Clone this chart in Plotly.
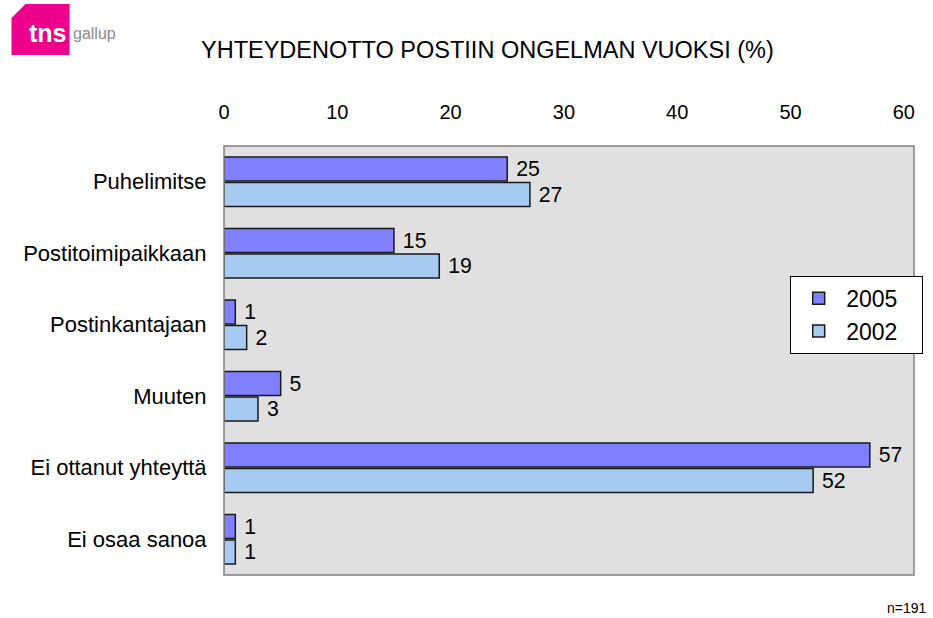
import plotly.graph_objects as go

categories = ["Puhelimitse", "Postitoimipaikkaan", "Postinkantajaan", "Muuten",
              "Ei ottanut yhteyttä", "Ei osaa sanoa"]
values_2005 = [25, 15, 1, 5, 57, 1]
values_2002 = [27, 19, 2, 3, 52, 1]
tick_vals = [0, 10, 20, 30, 40, 50, 60]
series_names = ["2005", "2002"]

W, H = 933, 618
L, R, T, B = 224.3, 913.7, 146, 575
PAD = "\u00a0\u00a0\u00a0"


def px(x):
    return (x - L) / (R - L)


def py(y):
    return (B - y) / (B - T)


fig = go.Figure()
fig.add_trace(go.Bar(
    y=categories, x=values_2005, name=series_names[0] + PAD, orientation="h",
    marker=dict(color="#8080FF", line=dict(color="#1a1a1a", width=1.5)),
    text=[" " + str(v) for v in values_2005], textposition="outside",
    textfont=dict(size=22, color="#000000"), cliponaxis=False,
))
fig.add_trace(go.Bar(
    y=categories, x=values_2002, name=series_names[1] + PAD, orientation="h",
    marker=dict(color="#A6CAF0", line=dict(color="#1a1a1a", width=1.5)),
    text=[" " + str(v) for v in values_2002], textposition="outside",
    textfont=dict(size=22, color="#000000"), cliponaxis=False,
))

shapes = []
shapes.append(dict(type="rect", xref="paper", yref="paper", x0=0, x1=1, y0=0, y1=1,
                   line=dict(color="#808080", width=1.5), layer="above"))
path = (f"M {px(12)},{py(18)} L {px(26)},{py(4)} L {px(70)},{py(4)} "
        f"L {px(70)},{py(55)} L {px(12)},{py(55)} Z")
shapes.append(dict(type="path", xref="paper", yref="paper", path=path,
                   fillcolor="#EC008C", line=dict(width=0)))

annotations = [
    dict(text="<b>tns</b>", x=px(48), y=py(33), xref="paper", yref="paper",
         showarrow=False, font=dict(family="Liberation Sans", size=25, color="white"),
         xanchor="center", yanchor="middle"),
    dict(text="gallup", x=px(71), y=py(34), xref="paper", yref="paper",
         showarrow=False, font=dict(family="Liberation Sans", size=16, color="#8a8a8a"),
         xanchor="left", yanchor="middle"),
    dict(text="YHTEYDENOTTO POSTIIN ONGELMAN VUOKSI (%)", x=px(488), y=py(50),
         xref="paper", yref="paper", showarrow=False,
         font=dict(family="Liberation Sans", size=23.5, color="#000000"),
         xanchor="center", yanchor="middle"),
    dict(text="n=191", x=px(929), y=py(608), xref="paper", yref="paper",
         showarrow=False, font=dict(family="Liberation Sans", size=14, color="#000000"),
         xanchor="right", yanchor="middle"),
]

fig.update_layout(
    width=W, height=H,
    margin=dict(l=L, r=W - R, t=T, b=H - B, pad=0, autoexpand=False),
    paper_bgcolor="white", plot_bgcolor="#E0E0E0",
    font=dict(family="Liberation Sans", color="#000000"),
    barmode="group", bargap=0.29, bargroupgap=0.05,
    showlegend=True,
    legend=dict(x=px(790), y=py(275.7), xref="paper", yref="paper",
                xanchor="left", yanchor="top",
                bgcolor="white", bordercolor="#000000", borderwidth=1,
                font=dict(size=23), tracegroupgap=0, itemwidth=45),
    xaxis=dict(side="top", range=[0, 60.9], tickvals=tick_vals,
               showgrid=False, zeroline=False, showline=False,
               ticks="outside", ticklen=18, tickcolor="rgba(0,0,0,0)",
               tickfont=dict(size=20)),
    yaxis=dict(autorange="reversed", showgrid=False, zeroline=False, showline=False,
               ticks="outside", ticklen=12, tickcolor="rgba(0,0,0,0)",
               tickfont=dict(size=22)),
    shapes=shapes, annotations=annotations,
)

fig.write_html("out.html", config={"displayModeBar": False},
               post_script="document.body.style.margin='0';document.body.style.padding='0';")
